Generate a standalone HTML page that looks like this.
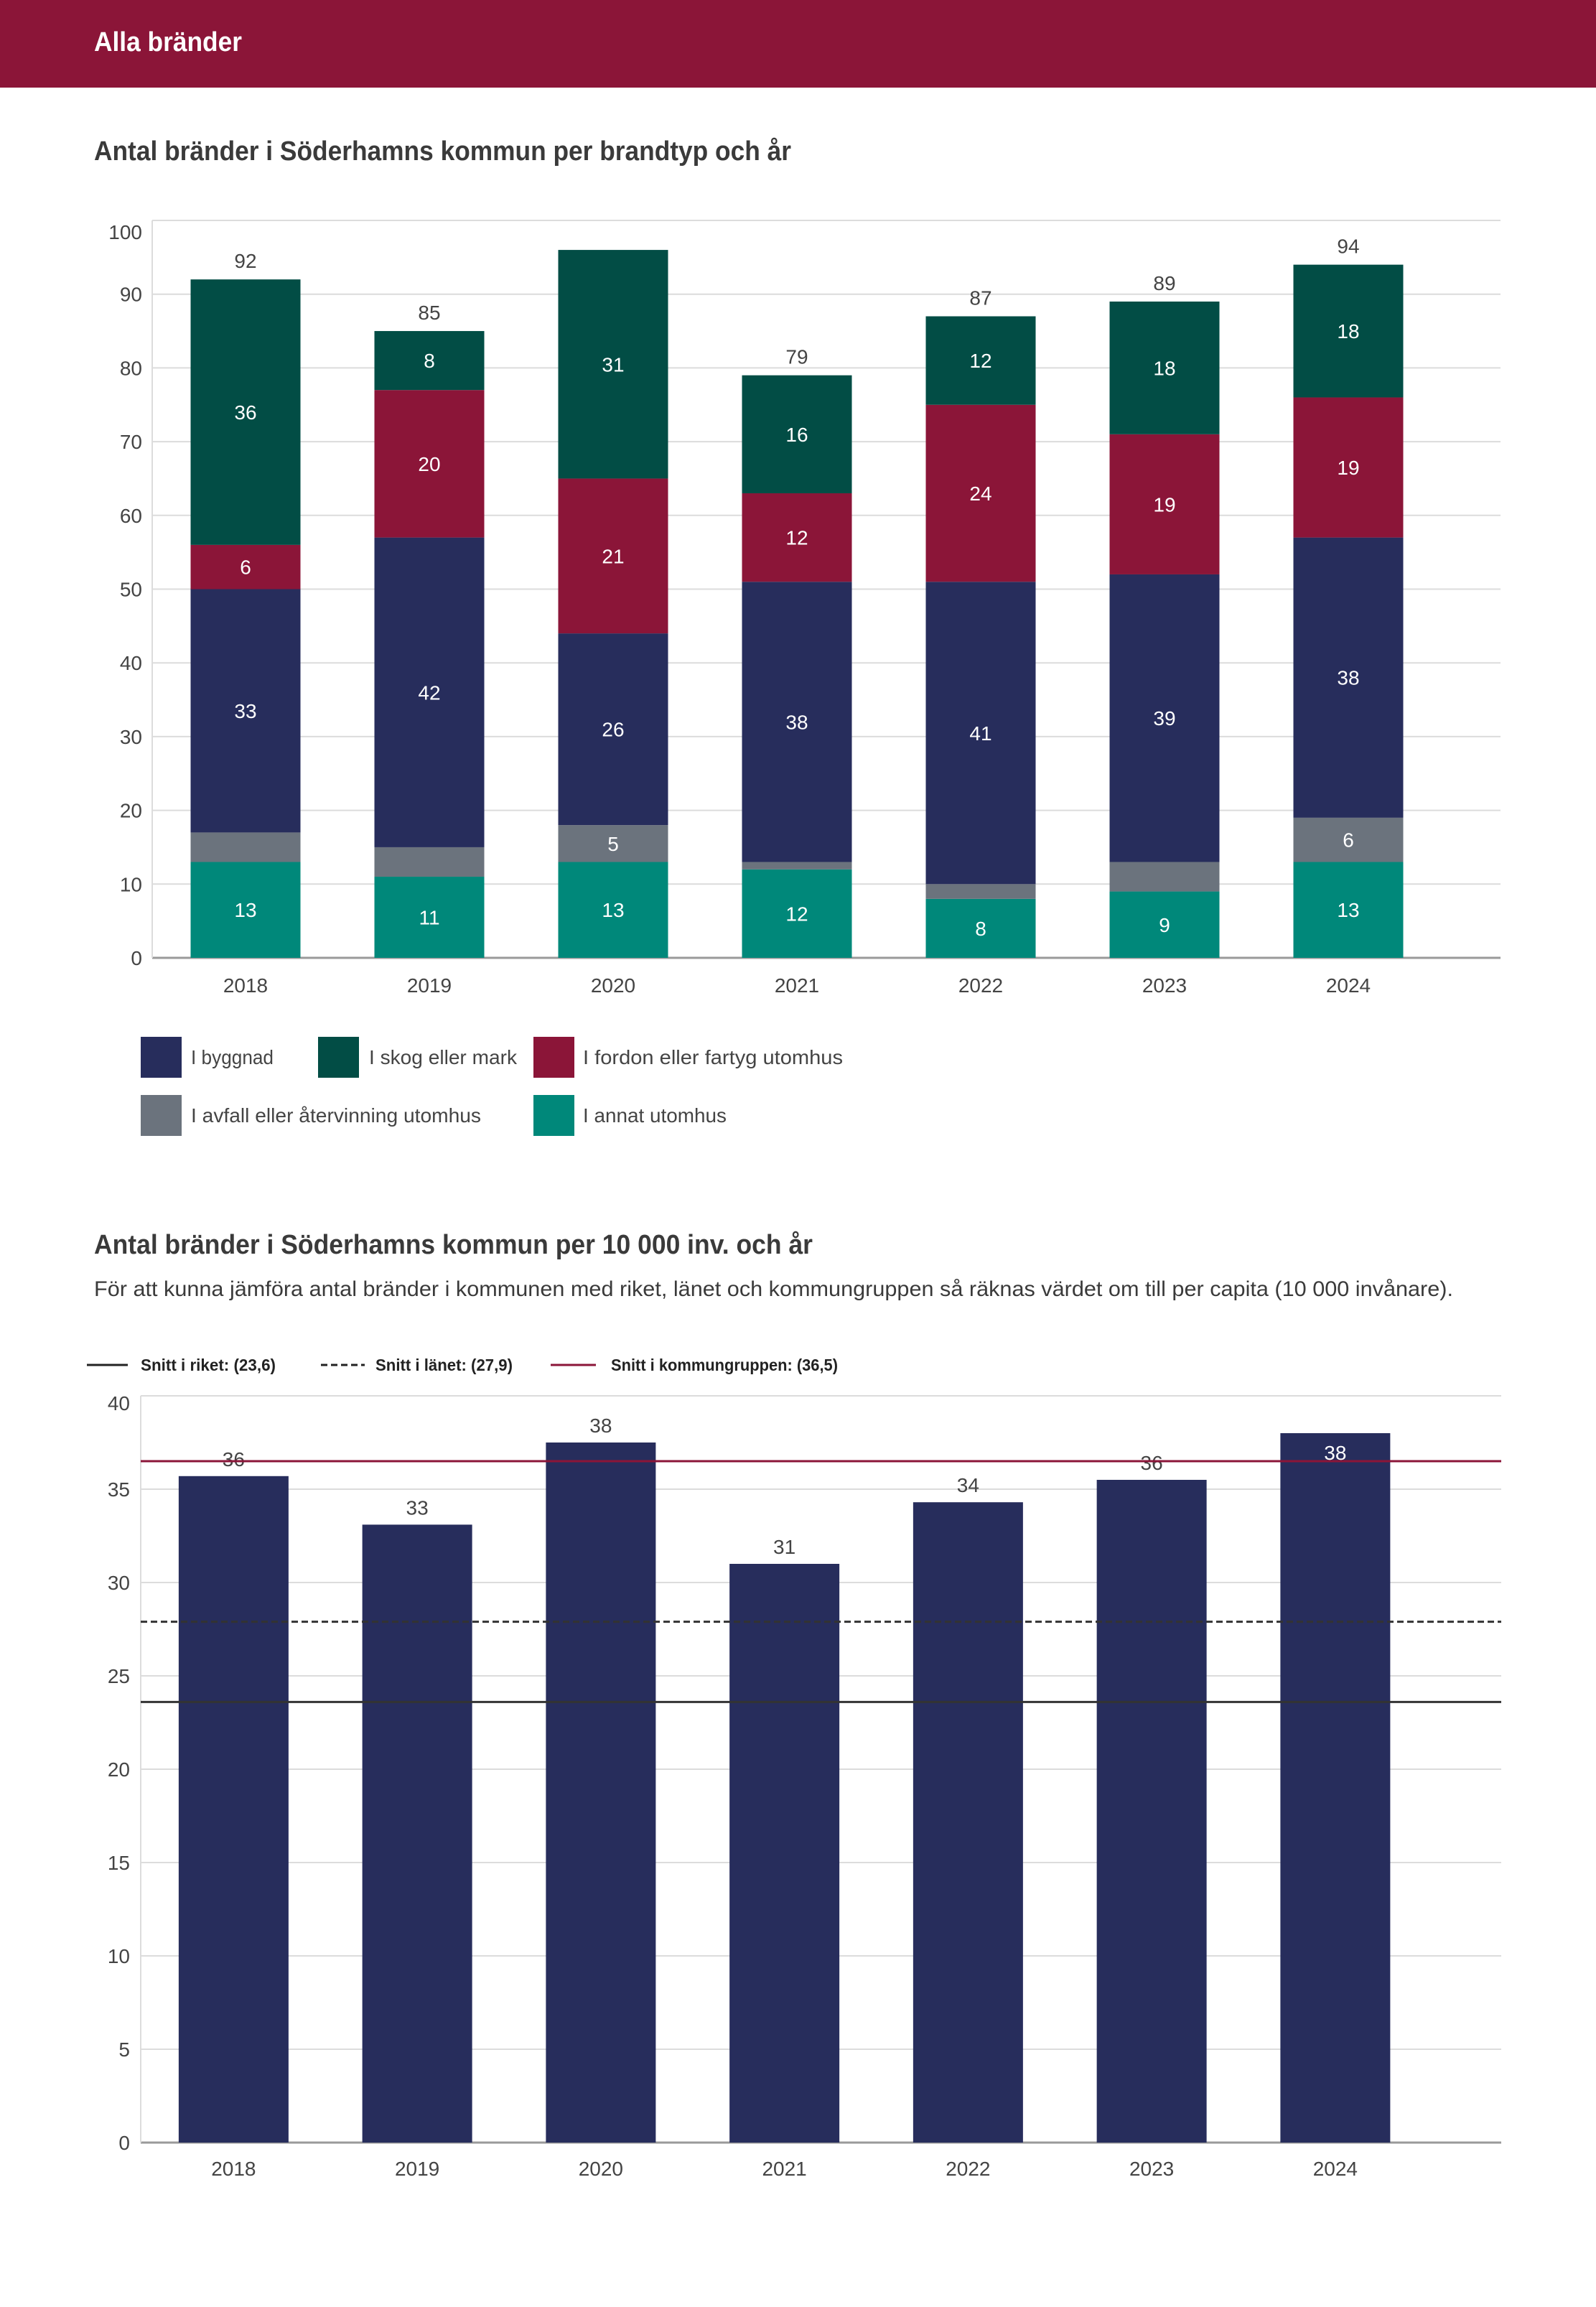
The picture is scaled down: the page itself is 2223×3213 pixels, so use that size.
<!DOCTYPE html>
<html><head><meta charset="utf-8"><style>
html,body{margin:0;padding:0;background:#fff;width:2223px;height:3213px;overflow:hidden}
svg{display:block}
text{font-family:"Liberation Sans Narrow","Liberation Sans",sans-serif}
</style></head><body>
<svg id="page" width="2223" height="3213" viewBox="0 0 2223 3213">
<rect x="0" y="0" width="2223" height="122" fill="#8b1538"/>
<text x="131" y="71" font-size="38" font-weight="bold" fill="#fff" textLength="206" lengthAdjust="spacingAndGlyphs">Alla bränder</text>
<text x="131" y="223" font-size="38" font-weight="bold" fill="#3a3a3a" textLength="971" lengthAdjust="spacingAndGlyphs">Antal bränder i Söderhamns kommun per brandtyp och år</text>
<g id="c1"></g>
<g id="leg1">
 <rect x="196" y="1444" width="57" height="57" fill="#272d5c"/>
 <text x="266" y="1482" font-size="28" fill="#444" textLength="115" lengthAdjust="spacingAndGlyphs">I byggnad</text>
 <rect x="443" y="1444" width="57" height="57" fill="#024d45"/>
 <text x="514" y="1482" font-size="28" fill="#444" textLength="206" lengthAdjust="spacingAndGlyphs">I skog eller mark</text>
 <rect x="743" y="1444" width="57" height="57" fill="#8b1538"/>
 <text x="812" y="1482" font-size="28" fill="#444" textLength="362" lengthAdjust="spacingAndGlyphs">I fordon eller fartyg utomhus</text>
 <rect x="196" y="1525" width="57" height="57" fill="#6b737d"/>
 <text x="266" y="1563" font-size="28" fill="#444" textLength="404" lengthAdjust="spacingAndGlyphs">I avfall eller återvinning utomhus</text>
 <rect x="743" y="1525" width="57" height="57" fill="#00887a"/>
 <text x="812" y="1563" font-size="28" fill="#444" textLength="200" lengthAdjust="spacingAndGlyphs">I annat utomhus</text>
</g>
<text x="131" y="1746" font-size="38" font-weight="bold" fill="#3a3a3a" textLength="1001" lengthAdjust="spacingAndGlyphs">Antal bränder i Söderhamns kommun per 10 000 inv. och år</text>
<text x="131" y="1805" font-size="30" fill="#3a3a3a" textLength="1893" lengthAdjust="spacingAndGlyphs">För att kunna jämföra antal bränder i kommunen med riket, länet och kommungruppen så räknas värdet om till per capita (10 000 invånare).</text>
<g id="leg2">
 <line x1="121" y1="1901" x2="178" y2="1901" stroke="#222" stroke-width="3"/>
 <text x="196" y="1909" font-size="23" font-weight="bold" fill="#222" textLength="188" lengthAdjust="spacingAndGlyphs">Snitt i riket: (23,6)</text>
 <line x1="447" y1="1901" x2="508" y2="1901" stroke="#222" stroke-width="3" stroke-dasharray="9,5"/>
 <text x="523" y="1909" font-size="23" font-weight="bold" fill="#222" textLength="191" lengthAdjust="spacingAndGlyphs">Snitt i länet: (27,9)</text>
 <line x1="767" y1="1901" x2="830" y2="1901" stroke="#8b1538" stroke-width="3"/>
 <text x="851" y="1909" font-size="23" font-weight="bold" fill="#222" textLength="316" lengthAdjust="spacingAndGlyphs">Snitt i kommungruppen: (36,5)</text>
</g>
<g id="c2"></g>
</svg>
<script>
// ---- Chart 1 data ----
const years = ["2018","2019","2020","2021","2022","2023","2024"];
const annat = [13,11,13,12,8,9,13];
const avfall = [4,4,5,1,2,4,6];
const byggnad = [33,42,26,38,41,39,38];
const fordon = [6,20,21,12,24,19,19];
const skog = [36,8,31,16,12,18,18];
const ticks1 = [0,10,20,30,40,50,60,70,80,90,100];
// ---- Chart 2 data ----
const perCapita = [35.7,33.1,37.5,31.0,34.3,35.5,38.0];
const perCapitaLabels = ["36","33","38","31","34","36","38"];
const ticks2 = [0,5,10,15,20,25,30,35,40];
const snittRiket = 23.6;
const snittLanet = 27.9;
const snittKommungrupp = 36.5;

const NS = "http://www.w3.org/2000/svg";
function mk(tag, attrs, parent){const e=document.createElementNS(NS,tag);for(const k in attrs)e.setAttribute(k,attrs[k]);parent.appendChild(e);return e;}

// Chart 1
(function(){
  const g=document.getElementById('c1');
  const L=212,R=2090,Y0=1334,Y100=307,bandStart=214,pitch=256,bw=153;
  const y=v=>Y0-(Y0-Y100)*v/100;
  const xc=i=>bandStart+pitch*(i+0.5);
  ticks1.forEach(t=>{
    const ln=mk('line',{x1:L,x2:R,y1:y(t),y2:y(t),stroke:t===0?'#9a9a9a':'#dcdcdc','stroke-width':t===0?3:2},g);
    
    
    const tx=mk('text',{x:198,y:(t===100?y(t)+26:y(t)+10),'font-size':28,fill:'#444','text-anchor':'end'},g);
    tx.textContent=t;
    
    
  });
  mk('line',{x1:L,x2:L,y1:Y100,y2:Y0,stroke:'#dcdcdc','stroke-width':2},g);
  const series=[[annat,'#00887a','annat'],[avfall,'#6b737d','avfall'],[byggnad,'#272d5c','byggnad'],[fordon,'#8b1538','fordon'],[skog,'#024d45','skog']];
  years.forEach((yr,i)=>{
    let cum=0;
    series.forEach(([arr,col,nm])=>{
      const v=arr[i];
      const r=mk('rect',{x:xc(i)-bw/2,y:y(cum+v),width:bw,height:y(cum)-y(cum+v),fill:col},g);
      
      
      if(v>=5){
        const t=mk('text',{x:xc(i),y:(y(cum)+y(cum+v))/2+10,'font-size':28,fill:'#fff','text-anchor':'middle'},g);
        t.textContent=v;
        
        
      }
      cum+=v;
    });
    if(cum<=95){
      const t=mk('text',{x:xc(i),y:y(cum)-16,'font-size':28,fill:'#444','text-anchor':'middle'},g);
      t.textContent=cum;
      
      
    }
    const xl=mk('text',{x:xc(i),y:1382,'font-size':28,fill:'#444','text-anchor':'middle'},g);
    xl.textContent=yr;
    
    
  });
})();

// Chart 2
(function(){
  const g=document.getElementById('c2');
  const L=196,R=2091,Y0=2984,YT=1944,bandStart=197.5,pitch=255.75,bw=153;
  const y=v=>Y0-(Y0-YT)*v/40;
  const xc=i=>bandStart+pitch*(i+0.5);
  ticks2.forEach(t=>{
    const ln=mk('line',{x1:L,x2:R,y1:y(t),y2:y(t),stroke:t===0?'#9a9a9a':'#dcdcdc','stroke-width':t===0?3:2},g);
    
    
    const tx=mk('text',{x:181,y:(t===40?y(t)+20:y(t)+10),'font-size':28,fill:'#444','text-anchor':'end'},g);
    tx.textContent=t;
    
    
  });
  mk('line',{x1:L,x2:L,y1:YT,y2:Y0,stroke:'#dcdcdc','stroke-width':2},g);
  years.forEach((yr,i)=>{
    const v=perCapita[i];
    const r=mk('rect',{x:xc(i)-bw/2,y:y(v),width:bw,height:Y0-y(v),fill:'#272d5c'},g);
    
    
    const inside = y(v)-55 < YT;
    const t=mk('text',{x:xc(i),y:inside?y(v)+37:y(v)-14,'font-size':28,fill:inside?'#fff':'#444','text-anchor':'middle'},g);
    t.textContent=perCapitaLabels[i];
    
    
    const xl=mk('text',{x:xc(i),y:3030,'font-size':28,fill:'#444','text-anchor':'middle'},g);
    xl.textContent=yr;
    
    
  });
  const l1=mk('line',{x1:L,x2:R,y1:y(snittRiket),y2:y(snittRiket),stroke:'#333','stroke-width':3},g);
  
  
  const l2=mk('line',{x1:L,x2:R,y1:y(snittLanet),y2:y(snittLanet),stroke:'#333','stroke-width':3,'stroke-dasharray':'9,5'},g);
  
  
  const l3=mk('line',{x1:L,x2:R,y1:y(snittKommungrupp),y2:y(snittKommungrupp),stroke:'#8b1538','stroke-width':3},g);
  
  
})();
</script>
</body></html>
